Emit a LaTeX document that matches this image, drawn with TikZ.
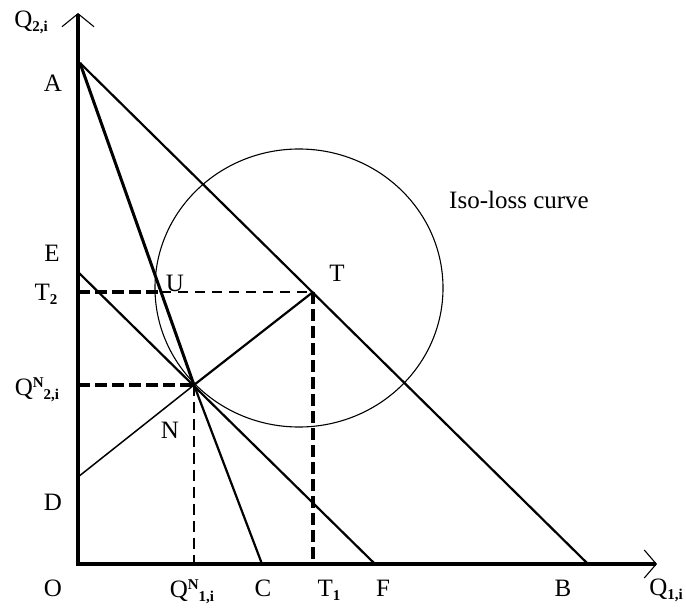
\documentclass[tikz,border=0pt]{standalone}
\usepackage{fontspec}
\setmainfont{Liberation Serif}
\usetikzlibrary{arrows.meta}
\newcommand{\lsub}[1]{\raisebox{-4pt}{\fontsize{15}{15}\selectfont\bfseries #1}}
\newcommand{\lsup}[1]{\raisebox{8pt}{\fontsize{15}{15}\selectfont\bfseries #1}}
\begin{document}
\begin{tikzpicture}[x=1pt,y=-1pt,
  lbl/.style={inner sep=0pt, font=\fontsize{25}{25}\selectfont},
  axis/.style={line width=3.4pt, {Straight Barb[length=13pt,width=32pt,line width'=1.1pt]}-{Straight Barb[length=12pt,width=28pt,line width'=1.1pt]}},
  thickline/.style={line width=2.2pt},
  heavyline/.style={line width=3pt},
  thinline/.style={line width=1.5pt},
  heavydash/.style={line width=3.2pt, dash pattern=on 12pt off 5pt},
  lightdash/.style={line width=1.3pt, dash pattern=on 10pt off 7pt},
  middash/.style={line width=2.4pt, dash pattern=on 11pt off 6pt},
  curve/.style={line width=1.1pt}]
\useasboundingbox (0,0) rectangle (686,610);
% points
\coordinate (O) at (78,564);
\coordinate (ytip) at (78,13);
\coordinate (xtip) at (657,564);
\coordinate (A) at (80,63);
\coordinate (B) at (588,564);
\coordinate (C) at (262,564);
\coordinate (E) at (78,272);
\coordinate (F) at (375,564);
\coordinate (D) at (78,477);
\coordinate (N) at (194,385);
\coordinate (T) at (313,292);
\coordinate (U) at (161,292);
\coordinate (T2) at (78,292);
\coordinate (Q2) at (78,385);
\coordinate (Q1) at (194,564);
\coordinate (T1) at (313,564);
\coordinate (K) at (299,288);
% axes
\draw[axis] (ytip) -- (O) -- (xtip);
% lines
\draw[thickline] (A) -- (B);
\draw[heavyline] (A) -- (N);
\draw[thickline] (N) -- (C);
\draw[thickline] (E) -- (F);
\draw[thinline] (D) -- (N);
\draw[thickline] (N) -- (T);
% dashed
\draw[heavydash] (T2) -- (U);
\draw[lightdash] (U) -- (T);
\draw[heavydash] (T) -- (T1);
\draw[heavydash] (Q2) -- (N);
\draw[middash] (N) -- (Q1);
% iso-loss curve
\draw[curve] (K) ellipse [x radius=144pt, y radius=139pt];
% labels
\node[lbl] (lQ2) at (31,22) {Q\lsub{2,i}};
\node[lbl] (lA) at (53,83) {A};
\node[lbl] (lE) at (52,253) {E};
\node[lbl] (lT2) at (46,294) {T\lsub{2}};
\node[lbl] (lQN2) at (37,390) {Q\lsup{N}\lsub{2,i}};
\node[lbl] (lD) at (53,502) {D};
\node[lbl] (lO) at (53,588) {O};
\node[lbl] (lQN1) at (192,592) {Q\lsup{N}\lsub{1,i}};
\node[lbl] (lC) at (263,588) {C};
\node[lbl] (lT1) at (329,590) {T\lsub{1}};
\node[lbl] (lF) at (383,588) {F};
\node[lbl] (lB) at (563,588) {B};
\node[lbl] (lQ1) at (666,590) {Q\lsub{1,i}};
\node[lbl] (lU) at (175,283) {U};
\node[lbl] (lT) at (337,273) {T};
\node[lbl] (lN) at (170,430) {N};
\node[lbl] (lIso) at (519,200) {Iso-loss curve};
\end{tikzpicture}
\end{document}
